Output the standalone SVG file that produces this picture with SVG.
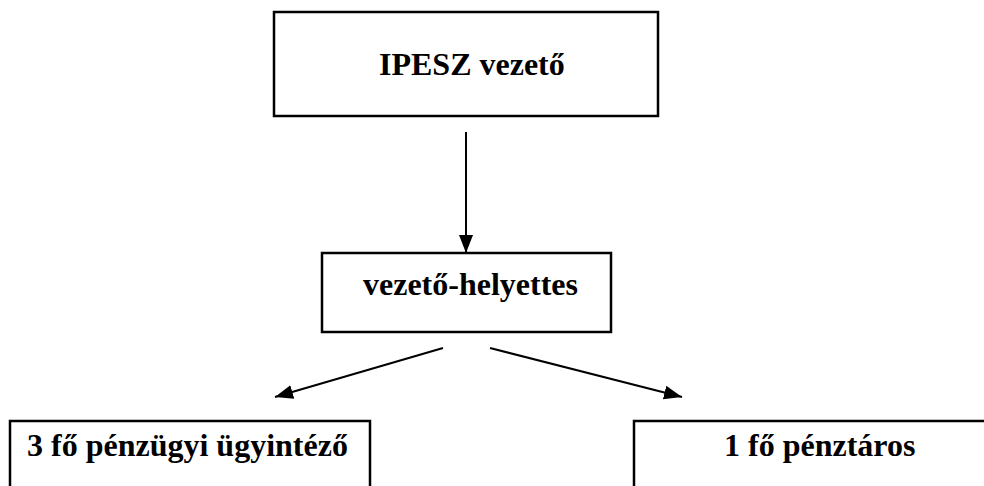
<svg xmlns="http://www.w3.org/2000/svg" width="984" height="486" viewBox="0 0 984 486">
<style>
.box{fill:#fff;stroke:#000;stroke-width:2.5}
.lbl{font-family:"Liberation Serif","Times New Roman",serif;font-weight:bold;font-size:32px;fill:#000}
.con{stroke:#000;stroke-width:2;fill:none}
</style>
<defs>
<marker id="ah" markerWidth="18" markerHeight="14" refX="18" refY="7" orient="auto" markerUnits="userSpaceOnUse">
<path d="M0,0 L18,7 L0,14 Z" fill="#000"/>
</marker>
</defs>
<rect width="984" height="486" fill="#fff"/>
<g id="connectors">
<line class="con" x1="466" y1="132" x2="466" y2="253" marker-end="url(#ah)"/>
<line class="con" x1="443" y1="348" x2="275" y2="397" marker-end="url(#ah)"/>
<line class="con" x1="490" y1="348" x2="682" y2="397" marker-end="url(#ah)"/>
</g>
<g id="node-ipesz">
<rect class="box" x="274" y="12" width="384" height="104"/>
<text class="lbl" x="379" y="75">IPESZ vezető</text>
</g>
<g id="node-helyettes">
<rect class="box" x="322" y="253" width="289" height="79"/>
<text class="lbl" x="363" y="295">vezető-helyettes</text>
</g>
<g id="node-ugyintezo">
<rect class="box" x="10" y="421" width="360" height="80"/>
<text class="lbl" x="27" y="456">3 fő pénzügyi ügyintéző</text>
</g>
<g id="node-penztaros">
<rect class="box" x="634" y="421" width="370" height="80"/>
<text class="lbl" x="724" y="456">1 fő pénztáros</text>
</g>
</svg>
